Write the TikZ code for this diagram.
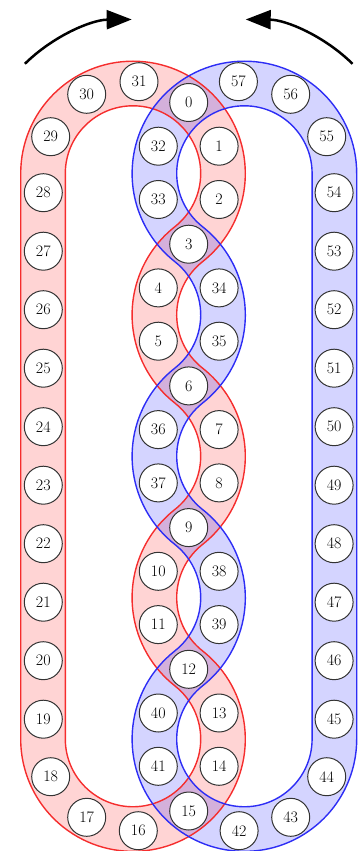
\documentclass[tikz,border=0pt]{standalone}
\usetikzlibrary{arrows.meta}
\definecolor{redline}{RGB}{245,45,45}
\definecolor{blueline}{RGB}{45,45,245}
% band boundaries: chain of tangent circles (radius 90, band half width 22.3)
\def\BandOuter{(20.7,739.06) -- (20.7,173.5)
  arc[start angle=180,end angle=-51.77,radius=112.3pt]
  arc[start angle=128.23,end angle=231.77,radius=67.7pt]
  arc[start angle=51.77,end angle=-51.77,radius=112.3pt]
  arc[start angle=128.23,end angle=231.77,radius=67.7pt]
  arc[start angle=51.77,end angle=-180,radius=112.3pt] -- cycle}
\def\BandInner{(65.3,739.06) -- (65.3,173.5)
  arc[start angle=180,end angle=-51.77,radius=67.7pt]
  arc[start angle=128.23,end angle=231.77,radius=112.3pt]
  arc[start angle=51.77,end angle=-51.77,radius=67.7pt]
  arc[start angle=128.23,end angle=231.77,radius=112.3pt]
  arc[start angle=51.77,end angle=-180,radius=67.7pt] -- cycle}
\tikzset{
  num/.style={circle, draw=black!80, line width=1pt, fill=white, minimum size=38pt, inner sep=0pt, font=\fontsize{16}{16}\selectfont},
  bandfillred/.style={fill=red, fill opacity=0.17, even odd rule},
  bandfillblue/.style={fill=blue, fill opacity=0.17, even odd rule},
  bandedgered/.style={draw=redline, line width=1.4pt},
  bandedgeblue/.style={draw=blueline, line width=1.4pt},
  turnarrow/.style={line width=2.5pt, -{Triangle[length=25pt,width=19pt]}},
  mirror/.style={xshift=377.4pt, xscale=-1}
}
\begin{document}
\begin{tikzpicture}[x=1pt,y=-1pt]
\useasboundingbox (0,0) rectangle (357,851);
% bands
\fill[bandfillred] \BandOuter \BandInner;
\begin{scope}[mirror]
\fill[bandfillblue] \BandOuter \BandInner;
\end{scope}
\draw[bandedgered] \BandOuter \BandInner;
\begin{scope}[mirror]
\draw[bandedgeblue] \BandOuter \BandInner;
\end{scope}
% arrows
\coordinate (arrL) at (24.9,63.8);
\coordinate (arrR) at (352.5,63.8);
\draw[turnarrow] (arrL) arc[start angle=134.6,end angle=90.5,radius=154pt];
\draw[turnarrow] (arrR) arc[start angle=45.4,end angle=89.5,radius=154pt];
% crossing nodes
\node[num] (n0) at (188.7,102.5) {0};
\node[num] (n3) at (188.7,244.2) {3};
\node[num] (n6) at (188.7,385.9) {6};
\node[num] (n9) at (188.7,527.6) {9};
\node[num] (n12) at (188.7,669.3) {12};
\node[num] (n15) at (188.7,811.0) {15};
% middle red
\node[num] (n1) at (219.1,146.2) {1};
\node[num] (n2) at (219.1,199.5) {2};
\node[num] (n4) at (158.3,287.9) {4};
\node[num] (n5) at (158.3,341.2) {5};
\node[num] (n7) at (219.1,429.6) {7};
\node[num] (n8) at (219.1,482.9) {8};
\node[num] (n10) at (158.3,571.3) {10};
\node[num] (n11) at (158.3,624.6) {11};
\node[num] (n13) at (219.1,713.0) {13};
\node[num] (n14) at (219.1,766.3) {14};
% middle blue
\node[num] (n32) at (158.3,146.2) {32};
\node[num] (n33) at (158.3,199.5) {33};
\node[num] (n34) at (219.1,287.9) {34};
\node[num] (n35) at (219.1,341.2) {35};
\node[num] (n36) at (158.3,429.6) {36};
\node[num] (n37) at (158.3,482.9) {37};
\node[num] (n38) at (219.1,571.3) {38};
\node[num] (n39) at (219.1,624.6) {39};
\node[num] (n40) at (158.3,713.0) {40};
\node[num] (n41) at (158.3,766.3) {41};
% outer red
\node[num] (n16) at (138.3,830.7) {16};
\node[num] (n17) at (86.7,817.3) {17};
\node[num] (n18) at (50.7,776.7) {18};
\node[num] (n19) at (43.3,719.2) {19};
\node[num] (n20) at (43.3,660.7) {20};
\node[num] (n21) at (43.3,602.2) {21};
\node[num] (n22) at (43.3,543.7) {22};
\node[num] (n23) at (43.3,485.2) {23};
\node[num] (n24) at (43.3,426.7) {24};
\node[num] (n25) at (43.3,368.2) {25};
\node[num] (n26) at (43.3,309.7) {26};
\node[num] (n27) at (43.3,251.2) {27};
\node[num] (n28) at (43.3,192.7) {28};
\node[num] (n29) at (50.7,136.7) {29};
\node[num] (n30) at (86.7,94.3) {30};
\node[num] (n31) at (139.0,81.7) {31};
% outer blue
\node[num] (n42) at (239.1,830.7) {42};
\node[num] (n43) at (290.7,817.3) {43};
\node[num] (n44) at (326.7,776.7) {44};
\node[num] (n45) at (334.1,719.2) {45};
\node[num] (n46) at (334.1,660.7) {46};
\node[num] (n47) at (334.1,602.2) {47};
\node[num] (n48) at (334.1,543.7) {48};
\node[num] (n49) at (334.1,485.2) {49};
\node[num] (n50) at (334.1,426.7) {50};
\node[num] (n51) at (334.1,368.2) {51};
\node[num] (n52) at (334.1,309.7) {52};
\node[num] (n53) at (334.1,251.2) {53};
\node[num] (n54) at (334.1,192.7) {54};
\node[num] (n55) at (326.7,136.7) {55};
\node[num] (n56) at (290.7,94.3) {56};
\node[num] (n57) at (238.4,81.7) {57};
\end{tikzpicture}
\end{document}
